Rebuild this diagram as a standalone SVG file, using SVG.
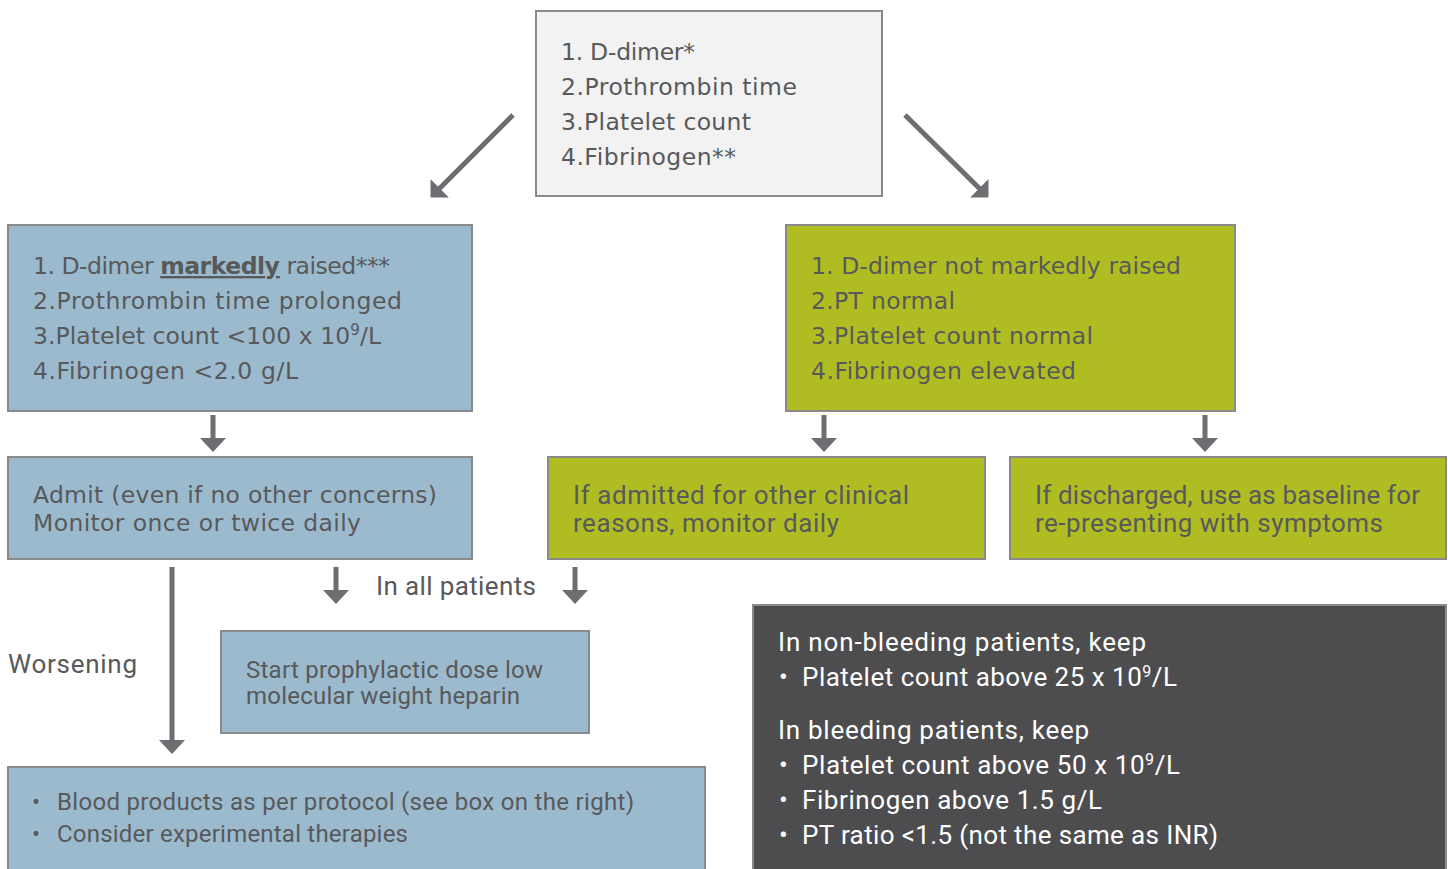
<svg xmlns="http://www.w3.org/2000/svg" width="1448" height="869" viewBox="0 0 1448 869">
<defs>
<style>
.box{stroke:#8a8a8c;stroke-width:2}
.grey{fill:#f2f2f2}
.blue{fill:#9cbacd}
.green{fill:#afbd22}
.dark{fill:#4d4d4f}
.w{font-family:"DejaVu Sans","Liberation Sans",sans-serif;font-size:23.5px;fill:#58595b}
.n{font-family:Roboto,"Liberation Sans",sans-serif;font-size:26px;fill:#58595b}
.s{font-family:Roboto,"Liberation Sans",sans-serif;font-size:24px;fill:#58595b}
.wh{fill:#ffffff}
.conn{stroke:#6d6e71;stroke-width:5;fill:none}
.blueconn{stroke:#9dbdd0;stroke-width:4;fill:none}
</style>
<marker id="ah" markerUnits="userSpaceOnUse" viewBox="0 0 14 26" refX="1" refY="13" markerWidth="14" markerHeight="26" orient="auto">
<path d="M0,0 L14,13 L0,26 z" fill="#6d6e71"/>
</marker>
<marker id="ahd" markerUnits="userSpaceOnUse" viewBox="0 0 13 26" refX="1" refY="13" markerWidth="13" markerHeight="26" orient="auto">
<path d="M0,0 L13,13 L0,26 z" fill="#6d6e71"/>
</marker>
<marker id="ahb" markerUnits="userSpaceOnUse" viewBox="0 0 16 26" refX="1" refY="13" markerWidth="16" markerHeight="26" orient="auto">
<path d="M0,0 L16,13 L0,26 z" fill="#9dbdd0"/>
</marker>
</defs>

<g id="connectors">
<line class="blueconn" x1="829" y1="55" x2="829" y2="156" marker-end="url(#ahb)"/>
<line class="conn" x1="513" y1="115" x2="439" y2="189" marker-end="url(#ahd)"/>
<line class="conn" x1="905" y1="115" x2="980" y2="189" marker-end="url(#ahd)"/>
<line class="conn" x1="213" y1="415" x2="213" y2="439" marker-end="url(#ah)"/>
<line class="conn" x1="824" y1="415" x2="824" y2="439" marker-end="url(#ah)"/>
<line class="conn" x1="1205" y1="415" x2="1205" y2="439" marker-end="url(#ah)"/>
<line class="conn" x1="172" y1="567" x2="172" y2="741" marker-end="url(#ah)"/>
<line class="conn" x1="336" y1="567" x2="336" y2="591" marker-end="url(#ah)"/>
<line class="conn" x1="575" y1="567" x2="575" y2="591" marker-end="url(#ah)"/>
</g>

<g id="node-tests">
<rect class="box grey" x="536" y="11" width="346" height="185"/>
<text class="w" x="561" y="60" textLength="134" lengthAdjust="spacing">1. D-dimer*</text>
<text class="w" x="561" y="95" textLength="236" lengthAdjust="spacing">2.Prothrombin time</text>
<text class="w" x="561" y="130" textLength="190" lengthAdjust="spacing">3.Platelet count</text>
<text class="w" x="561" y="165" textLength="175" lengthAdjust="spacing">4.Fibrinogen**</text>
</g>

<g id="node-abnormal">
<rect class="box blue" x="8" y="225" width="464" height="186"/>
<text class="w" x="33" y="274" textLength="357" lengthAdjust="spacing">1. D-dimer <tspan font-weight="bold" text-decoration="underline">markedly</tspan> raised***</text>
<text class="w" x="33" y="309" textLength="369" lengthAdjust="spacing">2.Prothrombin time prolonged</text>
<text class="w" x="33" y="344" textLength="348" lengthAdjust="spacing">3.Platelet count &lt;100 x 10<tspan dy="-9" font-size="15">9</tspan><tspan dy="9">/L</tspan></text>
<text class="w" x="33" y="379" textLength="265" lengthAdjust="spacing">4.Fibrinogen &lt;2.0 g/L</text>
</g>

<g id="node-normal">
<rect class="box green" x="786" y="225" width="449" height="186"/>
<text class="w" x="811" y="274" textLength="370" lengthAdjust="spacing">1. D-dimer not markedly raised</text>
<text class="w" x="811" y="309" textLength="144" lengthAdjust="spacing">2.PT normal</text>
<text class="w" x="811" y="344" textLength="282" lengthAdjust="spacing">3.Platelet count normal</text>
<text class="w" x="811" y="379" textLength="265" lengthAdjust="spacing">4.Fibrinogen elevated</text>
</g>

<g id="node-admit">
<rect class="box blue" x="8" y="457" width="464" height="102"/>
<text class="w" x="33" y="503" textLength="404" lengthAdjust="spacing">Admit (even if no other concerns)</text>
<text class="w" x="33" y="531" textLength="328" lengthAdjust="spacing">Monitor once or twice daily</text>
</g>

<g id="node-admitted-other">
<rect class="box green" x="548" y="457" width="437" height="102"/>
<text class="n" x="573" y="504" textLength="336" lengthAdjust="spacing">If admitted for other clinical</text>
<text class="n" x="573" y="532" textLength="266" lengthAdjust="spacing">reasons, monitor daily</text>
</g>

<g id="node-discharged">
<rect class="box green" x="1010" y="457" width="436" height="102"/>
<text class="n" x="1035" y="504" textLength="385" lengthAdjust="spacing">If discharged, use as baseline for</text>
<text class="n" x="1035" y="532" textLength="348" lengthAdjust="spacing">re-presenting with symptoms</text>
</g>

<g id="label-all">
<text class="n" x="376" y="595" textLength="160" lengthAdjust="spacing">In all patients</text>
</g>

<g id="label-worsening">
<text class="n" x="8" y="673" textLength="129" lengthAdjust="spacing">Worsening</text>
</g>

<g id="node-heparin">
<rect class="box blue" x="221" y="631" width="368" height="102"/>
<text class="s" x="246" y="678" textLength="297" lengthAdjust="spacing">Start prophylactic dose low</text>
<text class="s" x="246" y="704" textLength="274" lengthAdjust="spacing">molecular weight heparin</text>
</g>

<g id="node-blood">
<rect class="box blue" x="8" y="767" width="697" height="115"/>
<text class="s" x="32" y="810">•</text>
<text class="s" x="57" y="810" textLength="577" lengthAdjust="spacing">Blood products as per protocol (see box on the right)</text>
<text class="s" x="32" y="842">•</text>
<text class="s" x="57" y="842" textLength="351" lengthAdjust="spacing">Consider experimental therapies</text>
</g>

<g id="node-thresholds">
<rect class="box dark" x="753" y="605" width="693" height="277"/>
<text class="n wh" x="778" y="651" textLength="368" lengthAdjust="spacing">In non-bleeding patients, keep</text>
<text class="n wh" x="779" y="686">•</text>
<text class="n wh" x="802" y="686" textLength="375" lengthAdjust="spacing">Platelet count above 25 x 10<tspan dy="-9" font-size="16">9</tspan><tspan dy="9">/L</tspan></text>
<text class="n wh" x="778" y="739" textLength="311" lengthAdjust="spacing">In bleeding patients, keep</text>
<text class="n wh" x="779" y="774">•</text>
<text class="n wh" x="802" y="774" textLength="378" lengthAdjust="spacing">Platelet count above 50 x 10<tspan dy="-9" font-size="16">9</tspan><tspan dy="9">/L</tspan></text>
<text class="n wh" x="779" y="809">•</text>
<text class="n wh" x="802" y="809" textLength="300" lengthAdjust="spacing">Fibrinogen above 1.5 g/L</text>
<text class="n wh" x="779" y="844">•</text>
<text class="n wh" x="802" y="844" textLength="416" lengthAdjust="spacing">PT ratio &lt;1.5 (not the same as INR)</text>
</g>
</svg>
